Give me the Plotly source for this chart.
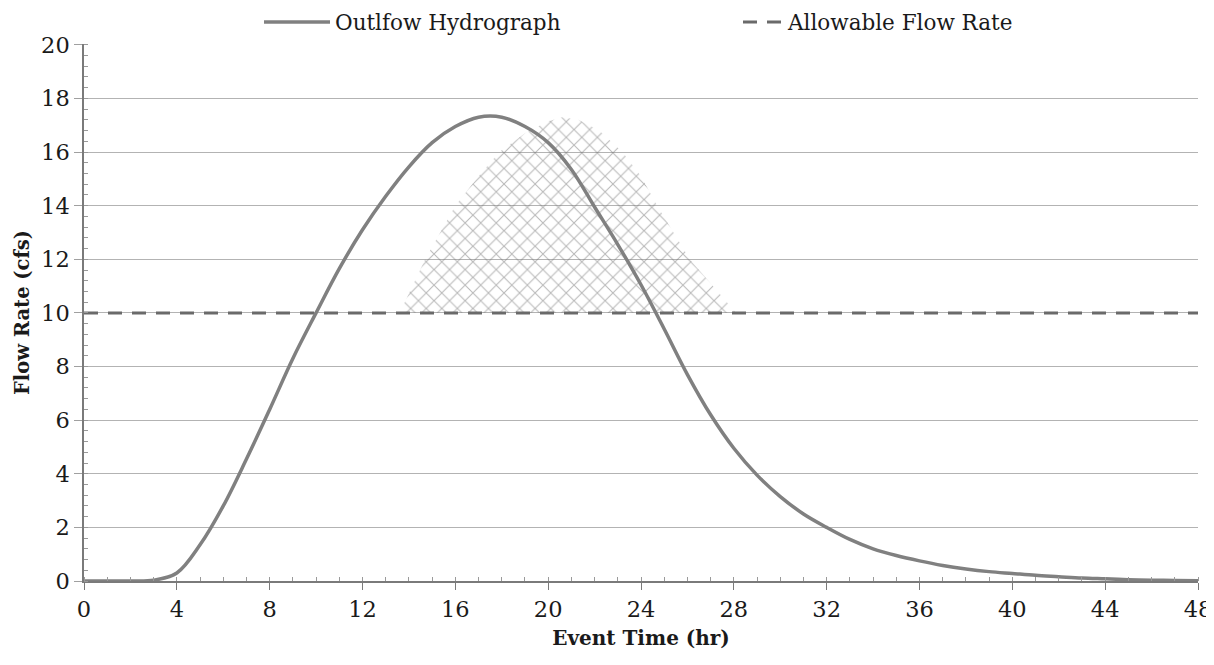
import plotly.graph_objects as go

# Outflow hydrograph (hr, cfs)
time_hr = list(range(0, 49))
flow_cfs = [0, 0, 0, 0.03, 0.3, 1.35, 2.8, 4.55, 6.4, 8.3, 10.0, 11.65, 13.1, 14.35, 15.45, 16.35,
            16.95, 17.3, 17.3, 16.95, 16.35, 15.35, 13.95, 12.55, 11.05, 9.4, 7.7, 6.2, 4.95, 3.95,
            3.15, 2.5, 2.0, 1.55, 1.2, 0.95, 0.75, 0.58, 0.45, 0.35, 0.28, 0.21, 0.16, 0.11, 0.08,
            0.05, 0.03, 0.02, 0.01]

# Allowable flow rate
allow_x = [0, 48]
allow_y = [10, 10]

# Hatched region (excess volume, delayed)
hatch_x = [13.6, 14.7, 16.0, 17.0, 17.9, 19.0, 20.0, 20.6, 21.3, 22.2, 23.2, 24.0, 24.7, 25.4, 26.1, 27.1, 28.1, 13.6]
hatch_y = [10.0, 12.0, 14.0, 15.1, 16.0, 16.7, 17.15, 17.3, 17.2, 16.8, 16.0, 15.1, 14.0, 13.0, 12.0, 11.0, 10.0, 10.0]

font_family = "DejaVu Serif, Liberation Serif, serif"

# page body adds an 8px margin; size the figure so the plot area lands at
# x 84..1198, y 44..581 of the window
fig_w, fig_h = 1206, 645
m_l, m_r, m_t, m_b = 76, 16, 36, 72
plot_w = fig_w - m_l - m_r
plot_h = fig_h - m_t - m_b

fig = go.Figure()

fig.add_trace(go.Scatter(
    x=hatch_x, y=hatch_y, mode="lines", fill="toself",
    line=dict(width=0, color="rgba(0,0,0,0)"),
    fillcolor="rgba(255,255,255,0)",
    fillpattern=dict(shape="x", size=11, solidity=0.18, fgcolor="#727272", bgcolor="rgba(255,255,255,0)"),
    showlegend=False, hoverinfo="skip"))

fig.add_trace(go.Scatter(
    x=allow_x, y=allow_y, mode="lines", name="Allowable Flow Rate", legend="legend2",
    line=dict(color="#6a6a6a", width=3, dash="14px,10px")))

fig.add_trace(go.Scatter(
    x=time_hr, y=flow_cfs, mode="lines", name="Outlfow Hydrograph", legend="legend",
    line=dict(color="#808080", width=3.5, shape="spline", smoothing=1.0)))

legend_common = dict(orientation="h", yanchor="middle", y=1 + 22 / plot_h, xanchor="left",
                     font=dict(size=21.5, family=font_family, color="#1a1a1a"),
                     bgcolor="rgba(0,0,0,0)")

fig.update_layout(
    width=fig_w, height=fig_h,
    paper_bgcolor="white", plot_bgcolor="white",
    margin=dict(l=m_l, r=m_r, t=m_t, b=m_b, autoexpand=False),
    font=dict(family=font_family, size=22, color="#1a1a1a"),
    legend=dict(x=(259 - 84) / plot_w, itemwidth=66, **legend_common),
    legend2=dict(x=(738 - 84) / plot_w, itemwidth=40, **legend_common),
    xaxis=dict(
        range=[0, 48], tickmode="linear", tick0=0, dtick=4,
        showgrid=False, zeroline=False,
        showline=True, linecolor="#7a7a7a", linewidth=1.5,
        ticks="outside", ticklen=7, tickcolor="#7a7a7a",
        minor=dict(dtick=1, ticks="inside", ticklen=4, tickcolor="#9a9a9a", showgrid=False),
        tickfont=dict(size=22.5, family=font_family),
        ticklabeloverflow="allow",
        title=dict(text="<b>Event Time (hr)</b>", font=dict(size=20, family=font_family), standoff=10),
    ),
    yaxis=dict(
        range=[0, 20.03], tickmode="linear", tick0=0, dtick=2,
        showgrid=True, gridcolor="#b3b3b3", gridwidth=1.2,
        zeroline=False,
        showline=True, linecolor="#7a7a7a", linewidth=1.5,
        ticks="outside", ticklen=8, tickcolor="#a0a0a0",
        minor=dict(dtick=0.4, ticks="inside", ticklen=4, tickcolor="#9a9a9a", showgrid=False),
        tickfont=dict(size=22.5, family=font_family),
        title=dict(text="<b>Flow Rate (cfs)</b>", font=dict(size=19.5, family=font_family), standoff=6),
    ),
)

fig.write_html("out.html")
